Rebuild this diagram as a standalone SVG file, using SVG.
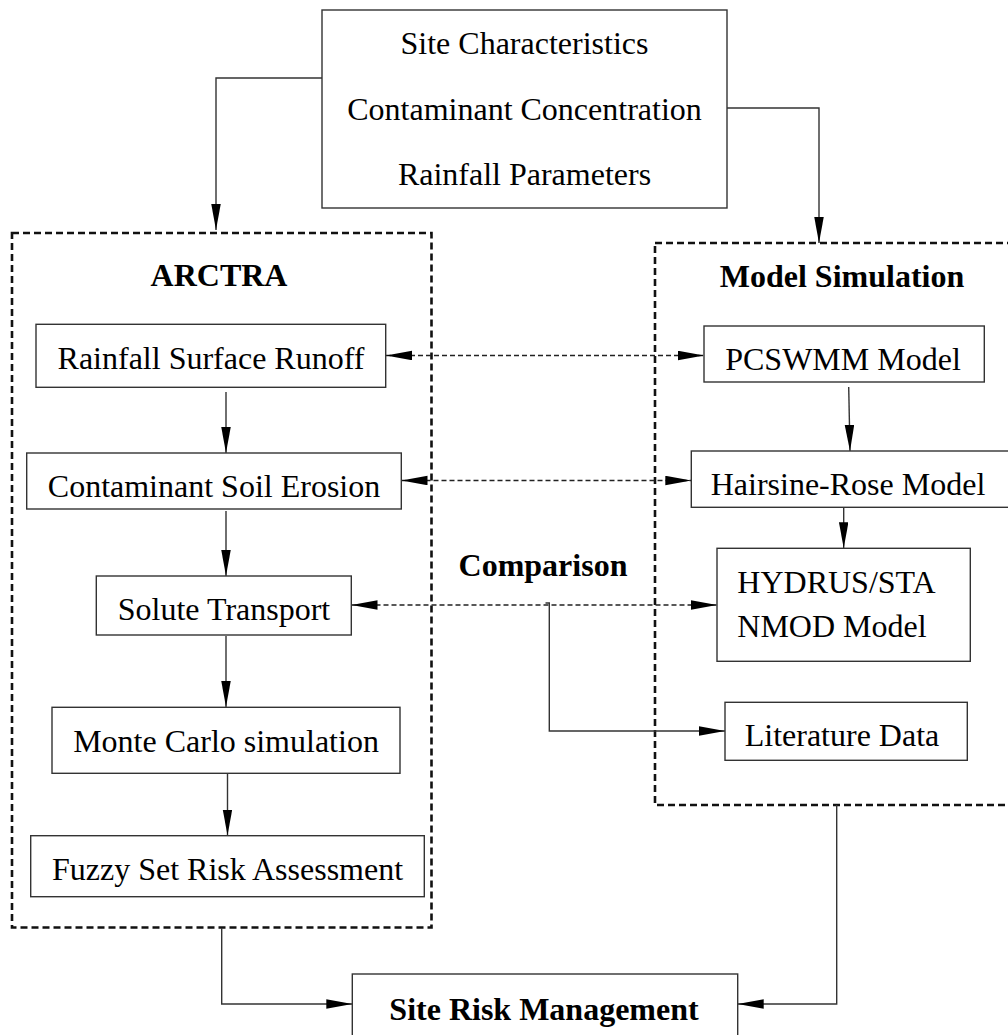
<svg xmlns="http://www.w3.org/2000/svg" width="1008" height="1035" viewBox="0 0 1008 1035">
<defs>
<marker id="arr" markerUnits="userSpaceOnUse" markerWidth="27" markerHeight="10" refX="26" refY="4.75" orient="auto-start-reverse">
<path d="M0,0 L26,4.75 L0,9.5 z" fill="#000"/>
</marker>
<style>
.box{fill:#fff;stroke:#333;stroke-width:1.4}
.grp{fill:none;stroke:#111;stroke-width:2.6;stroke-dasharray:7 4}
.t{font-family:"Liberation Serif","Times New Roman",serif;font-size:32px;fill:#000;text-anchor:middle}
.b{font-weight:bold}
.c{fill:none;stroke:#333;stroke-width:1.4}
.d{fill:none;stroke:#222;stroke-width:1.3;stroke-dasharray:5 3}
</style>
</defs>
<rect width="1008" height="1035" fill="#fff"/>

<g id="group-arctra">
<rect class="grp" x="12" y="233" width="419.5" height="694.5"/>
<text class="t b" x="219" y="286">ARCTRA</text>
</g>
<g id="group-model-simulation">
<rect class="grp" x="655" y="243" width="400" height="562"/>
<text class="t b" x="842" y="287">Model Simulation</text>
</g>

<g id="connectors">
<polyline class="c" points="325,78 216,78 216,230" marker-end="url(#arr)"/>
<polyline class="c" points="727,108 819,108 819,243" marker-end="url(#arr)"/>
<line class="c" x1="226" y1="392" x2="226" y2="453" marker-end="url(#arr)"/>
<line class="c" x1="226" y1="511" x2="226" y2="576" marker-end="url(#arr)"/>
<line class="c" x1="226" y1="636" x2="226" y2="707" marker-end="url(#arr)"/>
<line class="c" x1="227.5" y1="773" x2="227.5" y2="835.5" marker-end="url(#arr)"/>
<line class="c" x1="848.7" y1="387" x2="850" y2="451" marker-end="url(#arr)"/>
<line class="c" x1="843.7" y1="507" x2="843.7" y2="548.3" marker-end="url(#arr)"/>
<line class="d" x1="386" y1="355.5" x2="704" y2="355.5" marker-start="url(#arr)" marker-end="url(#arr)"/>
<line class="d" x1="401.5" y1="480.5" x2="691.3" y2="480.5" marker-start="url(#arr)" marker-end="url(#arr)"/>
<line class="d" x1="351.5" y1="605" x2="717" y2="605" marker-start="url(#arr)" marker-end="url(#arr)"/>
<polyline class="c" points="545.5,603 549.3,603 549.3,731 725,731" marker-end="url(#arr)"/>
<polyline class="c" points="221.7,928 221.7,1004 352.3,1004" marker-end="url(#arr)"/>
<polyline class="c" points="836.7,805 836.7,1004 737.7,1004" marker-end="url(#arr)"/>
</g>

<g id="node-inputs">
<rect class="box" x="322" y="10" width="405" height="198"/>
<text class="t" x="524.5" y="54">Site Characteristics</text>
<text class="t" x="524.5" y="120">Contaminant Concentration</text>
<text class="t" x="524.5" y="185">Rainfall Parameters</text>
</g>
<g id="node-rainfall-runoff">
<rect class="box" x="36" y="324.3" width="349.7" height="63"/>
<text class="t" x="211" y="368.5">Rainfall Surface Runoff</text>
</g>
<g id="node-soil-erosion">
<rect class="box" x="26.7" y="453" width="374.6" height="56"/>
<text class="t" x="214" y="496.5">Contaminant Soil Erosion</text>
</g>
<g id="node-solute-transport">
<rect class="box" x="96.3" y="576" width="255" height="59"/>
<text class="t" x="224" y="619.5">Solute Transport</text>
</g>
<g id="node-monte-carlo">
<rect class="box" x="52" y="707.3" width="348" height="66"/>
<text class="t" x="226" y="751.5">Monte Carlo simulation</text>
</g>
<g id="node-fuzzy-set">
<rect class="box" x="30.7" y="835.7" width="393.6" height="61"/>
<text class="t" x="227.5" y="879.5">Fuzzy Set Risk Assessment</text>
</g>
<g id="node-pcswmm">
<rect class="box" x="704" y="326" width="280.3" height="56"/>
<text class="t" x="843" y="369.5">PCSWMM Model</text>
</g>
<g id="node-hairsine-rose">
<rect class="box" x="691.3" y="451" width="330" height="56.3"/>
<text class="t" x="848" y="494.5">Hairsine-Rose Model</text>
</g>
<g id="node-hydrus">
<rect class="box" x="717" y="548.3" width="253.3" height="113"/>
<text class="t" x="737.3" y="592.7" style="text-anchor:start">HYDRUS/STA</text>
<text class="t" x="737.3" y="636.7" style="text-anchor:start">NMOD Model</text>
</g>
<g id="node-literature">
<rect class="box" x="725" y="702.3" width="242.3" height="58"/>
<text class="t" x="842" y="746">Literature Data</text>
</g>
<g id="label-comparison">
<text class="t b" x="543" y="576">Comparison</text>
</g>
<g id="node-site-risk">
<rect class="box" x="352.3" y="974" width="385.4" height="80"/>
<text class="t b" x="544" y="1020">Site Risk Management</text>
</g>
</svg>
